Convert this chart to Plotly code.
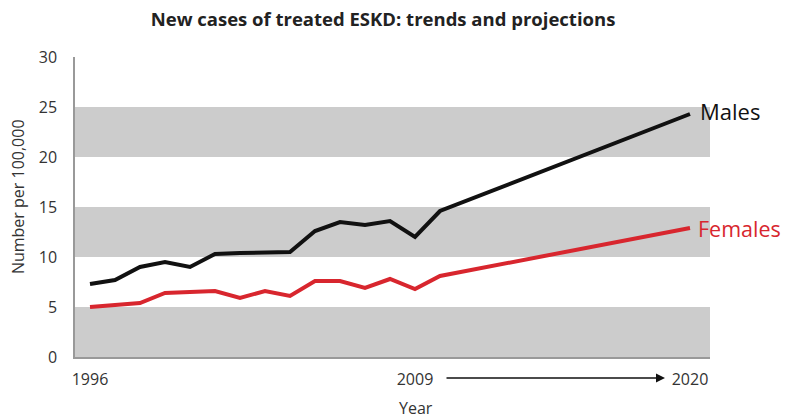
import plotly.graph_objects as go

years = [1996, 1997, 1998, 1999, 2000, 2001, 2002, 2003, 2004, 2005, 2006, 2007, 2008, 2009, 2010, 2020]
males = [7.3, 7.7, 9.0, 9.5, 9.0, 10.3, 10.4, 10.4, 10.5, 12.6, 13.5, 13.2, 13.6, 12.0, 14.6, 24.3]
females = [5.0, 5.2, 5.4, 6.4, 6.5, 6.6, 5.9, 6.6, 6.1, 7.6, 7.6, 6.9, 7.8, 6.8, 8.1, 12.9]
x_tick_vals = [1996, 2009, 2020]
x_tick_text = ["1996", "2009", "2020"]
y_tick_vals = [0, 5, 10, 15, 20, 25, 30]
bands = [(0, 5), (10, 15), (20, 25)]

FONT = "Open Sans"
TXT = "#333333"
BLACK = "#111111"
RED = "#d8262e"

fig = go.Figure()
fig.add_trace(go.Scatter(x=years, y=males, mode="lines",
                         line=dict(color=BLACK, width=4), name="Males"))
fig.add_trace(go.Scatter(x=years, y=females, mode="lines",
                         line=dict(color=RED, width=4), name="Females"))

for y0, y1 in bands:
    fig.add_shape(type="rect", xref="paper", yref="y", x0=0, x1=1, y0=y0, y1=y1,
                  fillcolor="#cccccc", line=dict(width=0), layer="below")

fig.update_layout(
    width=789, height=419,
    margin=dict(l=75, r=79, t=57, b=62),
    paper_bgcolor="white", plot_bgcolor="white",
    showlegend=False,
    font=dict(family=FONT, size=16, color=TXT),
    title=dict(text="<b>New cases of treated ESKD: trends and projections</b>",
               x=383/789, xanchor="center", y=1-20/419, yanchor="middle",
               font=dict(family=FONT, size=18.5, color="#222222")),
    xaxis=dict(range=[1995.4, 2020.8], tickvals=x_tick_vals, ticktext=x_tick_text,
               showgrid=False, zeroline=False, showline=True, linecolor="#999999",
               linewidth=1.5, ticks="", ticklabelstandoff=7,
               tickfont=dict(family=FONT, size=16, color=TXT)),
    yaxis=dict(range=[0, 30], tickvals=y_tick_vals, showgrid=False, zeroline=False,
               showline=True, linecolor="#999999", linewidth=1.5, ticks="",
               ticklabelstandoff=13,
               tickfont=dict(family=FONT, size=16, color=TXT)),
)

fig.add_annotation(text="Males", x=2020.3, y=24.6, xref="x", yref="y",
                   xanchor="left", yanchor="middle", showarrow=False,
                   font=dict(family=FONT, size=22, color=BLACK))
fig.add_annotation(text="Females", x=2020.25, y=12.9, xref="x", yref="y",
                   xanchor="left", yanchor="middle", showarrow=False,
                   font=dict(family=FONT, size=21.5, color=RED))
fig.add_annotation(text="Number per 100,000", x=(18-75)/635, y=0.533,
                   xref="paper", yref="paper", textangle=-90, showarrow=False,
                   xanchor="center", yanchor="middle",
                   font=dict(family=FONT, size=16, color=TXT))
fig.add_annotation(text="Year", x=(416-75)/635, y=(357-408)/300,
                   xref="paper", yref="paper", showarrow=False,
                   xanchor="center", yanchor="middle",
                   font=dict(family=FONT, size=16, color=TXT))
fig.add_annotation(text="", x=2019.0, y=-0.07, xref="x", yref="paper",
                   showarrow=True, ax=-220, ay=0, arrowhead=2, arrowsize=1.2,
                   arrowwidth=1.5, arrowcolor="#111111")

fig.write_html("out.html", config={"displayModeBar": False},
               post_script="document.body.style.margin='0';document.body.style.padding='0';")
